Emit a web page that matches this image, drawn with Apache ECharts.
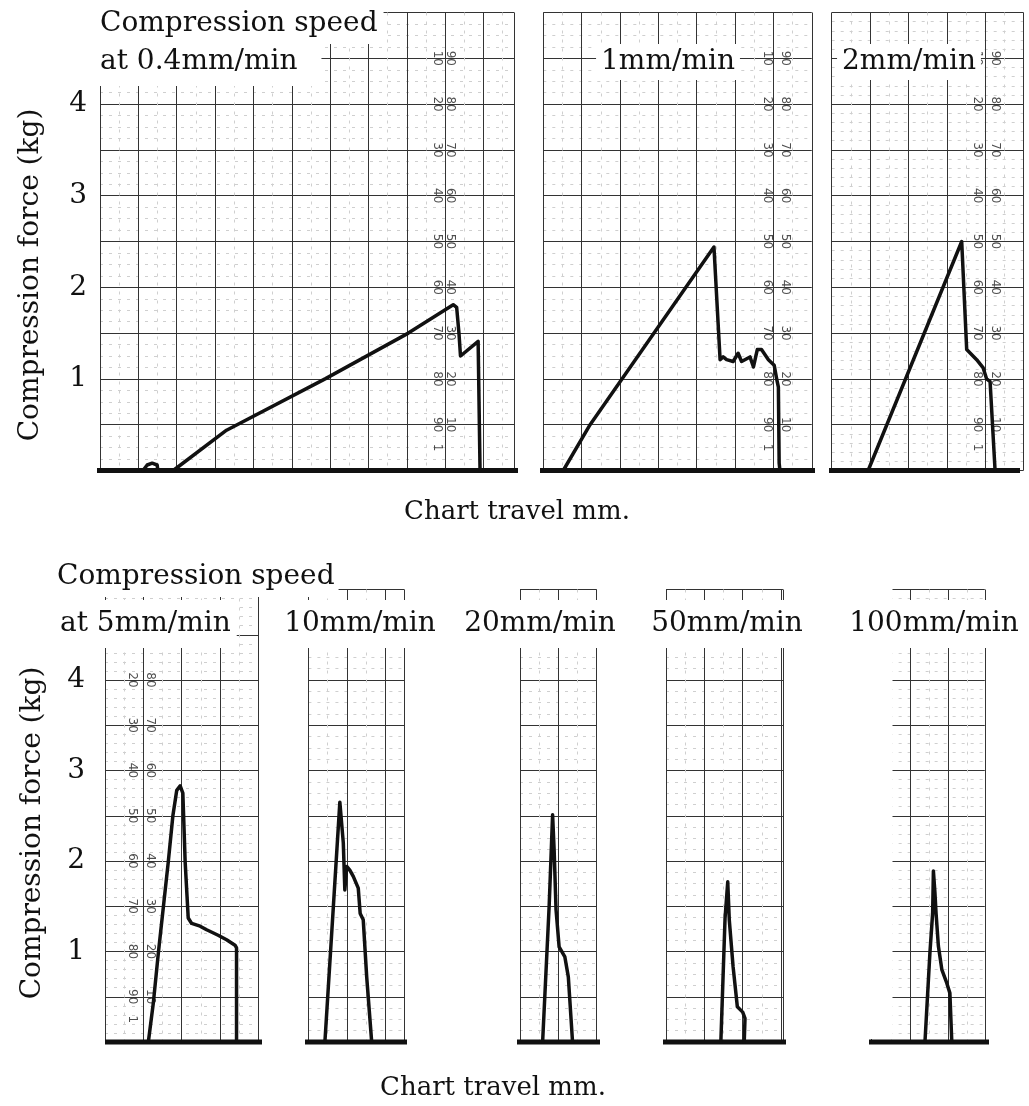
<!DOCTYPE html>
<html><head><meta charset="utf-8">
<script src="https://cdn.jsdelivr.net/npm/echarts@6/dist/echarts.min.js"></script>
<style>html,body{margin:0;padding:0;background:#fff}#c{width:1029px;height:1106px}</style>
</head><body><div id="c"></div>
<script>
// ================= DATA =================
// speeds (panel titles)
const speedTitles = ['at 0.4mm/min', '1mm/min', '2mm/min', 'at 5mm/min', '10mm/min', '20mm/min', '50mm/min', '100mm/min'];
// y tick labels (kg)
const forceTicks = [1, 2, 3, 4];
// printed % scales on the chart paper
const scaleLeftValues = [0.25, 0.5, 1, 1.5, 2, 2.5, 3, 3.5, 4, 4.5];
const scaleLeftLabels = ['1', '90', '80', '70', '60', '50', '40', '30', '20', '10'];
const scaleRightValues = [0.5, 1, 1.5, 2, 2.5, 3, 3.5, 4, 4.5];
const scaleRightLabels = ['10', '20', '30', '40', '50', '60', '70', '80', '90'];

// recorder traces: [chart travel (mm), compression force (kg)]
const trace_0_4 = [[11.2,0],[12.3,0.06],[13.6,0.08],[14.9,0.06],[15.1,0],[19.1,0],[33.0,0.44],[58.7,1.0],[80.4,1.5],[92.1,1.81],[93.0,1.78],[93.6,1.5],[94.0,1.25],[98.6,1.41],[99.1,0]];
const trace_1 = [[5.2,0],[12.2,0.5],[44.5,2.44],[46.1,1.21],[46.9,1.24],[47.8,1.21],[49.5,1.19],[50.8,1.28],[51.7,1.19],[53.9,1.24],[54.8,1.13],[55.8,1.32],[56.9,1.32],[58.7,1.21],[60.2,1.15],[60.9,0.99],[61.3,0.91],[61.5,0.08],[61.7,0]];
const trace_2 = [[9.5,0],[33.9,2.5],[35.2,1.32],[37.8,1.21],[39.5,1.12],[40.4,1.0],[41.3,0.97],[42.6,0]];
const trace_5 = [[11.3,0],[12.6,0.43],[13.9,0.98],[16.5,1.99],[17.7,2.5],[18.7,2.78],[19.6,2.83],[20.3,2.75],[20.9,1.99],[21.7,1.37],[22.6,1.31],[24.8,1.28],[26.5,1.24],[29.5,1.18],[31.7,1.13],[33.9,1.07],[34.3,1.04],[34.3,0]];
const trace_10 = [[4.3,0],[6.5,1.49],[8.2,2.65],[9.1,2.20],[9.5,1.68],[10.0,1.94],[10.8,1.90],[11.7,1.83],[13.0,1.70],[13.5,1.42],[14.3,1.35],[15.2,0.72],[16.5,0]];
const trace_20 = [[5.9,0],[7.6,1.50],[8.5,2.51],[8.9,2.12],[9.4,1.46],[10.2,1.05],[11.7,0.94],[12.6,0.72],[13.7,0]];
const trace_50 = [[14.3,0],[15.4,1.37],[16.1,1.77],[16.5,1.35],[17.5,0.83],[18.6,0.39],[20.0,0.33],[20.6,0.26],[20.4,0]];
const trace_100 = [[13.9,0],[15.2,0.99],[15.9,1.42],[16.1,1.89],[16.5,1.65],[16.8,1.42],[17.4,1.06],[18.3,0.80],[19.6,0.65],[20.4,0.54],[20.9,0]];

// zero (base) lines drawn by the recorder: [start mm, end mm]
const base_0_4 = [-2.6, 110.8];
const base_1 = [-1.4, 71.6];
const base_2 = [-1.0, 49.1];
const base_5 = [0, 43.5];
const base_10 = [-4.8, 34.6];
const base_20 = [-15.1, 28.2];
const base_50 = [-5.0, 42.8];
const base_100 = [-3.9, 33.5];

const traces = [trace_0_4, trace_1, trace_2, trace_5, trace_10, trace_20, trace_50, trace_100];
const bases = [base_0_4, base_1, base_2, base_5, base_10, base_20, base_50, base_100];

// ================= LAYOUT =================
const PX_PER_MM = 3.835;
const Y_MAX = 5;
const rows = [{top: 12.5, height: 458}, {top: 589.5, height: 452.5}];
const layout = [
  {row:0, left:100,    max:108,  cols:[87.8, 91.3], minorY:4, labels:true, margin:13},
  {row:0, left:543.3,  max:70,   cols:[58.3, 63.0], minorY:4},
  {row:0, left:831.7,  max:50,   cols:[37.8, 42.6], minorY:5},
  {row:1, left:105,    max:40,   cols:[7.0, 11.7],  minorY:5, labels:true, margin:20},
  {row:1, left:308.4,  max:25,   minorY:4},
  {row:1, left:520,    max:20,   minorY:4},
  {row:1, left:666,    max:30.5, minorY:4},
  {row:1, left:871.65, max:29.5, minorY:5}
];
const SERIF = 'DejaVu Serif';
const INK = '#111';

const grids = [], xAxes = [], yAxes = [], series = [];
layout.forEach((p, i) => {
  const r = rows[p.row];
  grids.push({left: p.left, top: r.top, width: p.max * PX_PER_MM, height: r.height, containLabel: false, outerBoundsMode: 'none'});
  xAxes.push({
    type: 'value', gridIndex: i, min: 0, max: p.max, interval: 10,
    axisLine: {show: false}, axisTick: {show: false}, axisLabel: {show: false},
    splitLine: {show: true, lineStyle: {color: '#333', width: 1}},
    minorTick: {show: false, splitNumber: 2},
    minorSplitLine: {show: true, lineStyle: {color: '#cfcfcf', width: 1, type: [3, 6]}}
  });
  yAxes.push({
    type: 'value', gridIndex: i, min: 0, max: Y_MAX, interval: 0.5,
    axisLine: {show: false}, axisTick: {show: false},
    axisLabel: {
      show: !!p.labels, margin: p.margin || 12,
      formatter: v => forceTicks.indexOf(v) >= 0 ? String(v) : '',
      fontFamily: SERIF, fontSize: 28, color: INK
    },
    splitLine: {show: true, lineStyle: {color: '#333', width: 1}},
    minorTick: {show: false, splitNumber: p.minorY},
    minorSplitLine: {show: true, lineStyle: {color: '#cfcfcf', width: 1, type: [3, 6]}}
  });
  if (p.cols) {
    const lab = {show: true, position: 'inside', rotate: -90, formatter: '{b}', fontSize: 12, fontFamily: 'DejaVu Sans', color: '#222'};
    series.push({
      type: 'scatter', xAxisIndex: i, yAxisIndex: i, symbolSize: 1, silent: true, z: 2,
      itemStyle: {color: 'rgba(0,0,0,0)'}, label: lab,
      data: scaleLeftValues.map((v, j) => ({value: [p.cols[0], v], name: scaleLeftLabels[j]}))
    });
    series.push({
      type: 'scatter', xAxisIndex: i, yAxisIndex: i, symbolSize: 1, silent: true, z: 2,
      itemStyle: {color: 'rgba(0,0,0,0)'}, label: lab,
      data: scaleRightValues.map((v, j) => ({value: [p.cols[1], v], name: scaleRightLabels[j]}))
    });
  }
  series.push({
    type: 'line', xAxisIndex: i, yAxisIndex: i, clip: false, symbol: 'none', z: 3, silent: true,
    lineStyle: {color: INK, width: 5},
    data: [[bases[i][0], 0], [bases[i][1], 0]]
  });
  series.push({
    type: 'line', xAxisIndex: i, yAxisIndex: i, clip: false, symbol: 'none', z: 4, silent: true,
    lineStyle: {color: INK, width: 3.5, join: 'round', cap: 'round'},
    data: traces[i]
  });
});

function txt(text, x, y, align, pad, extra, size) {
  return Object.assign({
    type: 'text', x: x, y: y, z: 100, silent: true,
    style: {
      text: text, fontFamily: SERIF, fontSize: size || 28, fill: INK,
      align: align, textAlign: align, verticalAlign: 'middle', textVerticalAlign: 'middle',
      backgroundColor: pad ? '#fff' : null, padding: pad || 0
    }
  }, extra || {});
}

const graphic = [
  // mask for paper left of the 100mm/min chart
  {type: 'rect', z: 1, silent: true, shape: {x: 870, y: 586, width: 22.5, height: 453}, style: {fill: '#fff'}},
  // top row
  txt('Compression speed', 100, 24, 'left', [6, 6, 6, 0]),
  txt(speedTitles[0], 100, 62, 'left', [10, 24, 10, 0]),
  txt(speedTitles[1], 668, 62, 'center', [4, 5]),
  txt(speedTitles[2], 909, 62, 'center', [4, 5]),
  txt('Compression force (kg)', 31, 275, 'center', null, {rotation: Math.PI / 2}),
  txt('Chart travel mm.', 517, 512, 'center', null, null, 26),
  // bottom row
  txt('Compression speed', 57, 577, 'left', [6, 4, 6, 0]),
  txt(speedTitles[3], 60, 624, 'left', [10, 6, 10, 0]),
  txt(speedTitles[4], 360, 624, 'center', [10, 6]),
  txt(speedTitles[5], 540, 624, 'center', [10, 6]),
  txt(speedTitles[6], 727, 624, 'center', [10, 6]),
  txt(speedTitles[7], 934, 624, 'center', [10, 6]),
  txt('Compression force (kg)', 33, 833, 'center', null, {rotation: Math.PI / 2}),
  txt('Chart travel mm.', 493, 1088, 'center', null, null, 26)
];

const chart = echarts.init(document.getElementById('c'), null, {renderer: 'canvas'});
chart.setOption({
  animation: false,
  backgroundColor: '#fff',
  grid: grids, xAxis: xAxes, yAxis: yAxes, series: series, graphic: graphic
});
</script></body></html>
